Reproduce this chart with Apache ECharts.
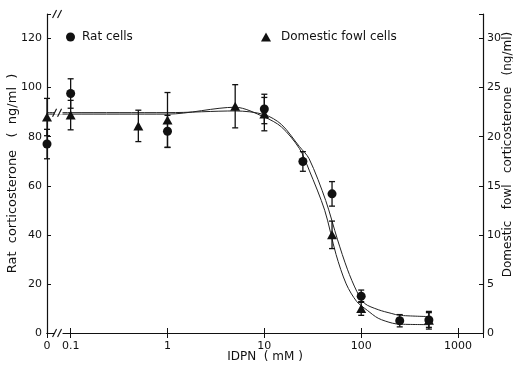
<!DOCTYPE html>
<html>
<head>
<meta charset="utf-8">
<script src="https://cdn.jsdelivr.net/npm/echarts@6/dist/echarts.min.js"></script>
<style>
  html, body { margin: 0; padding: 0; background: #fff; }
  #chart { width: 513px; height: 369px; }
</style>
</head>
<body>
<div id="chart"></div>
<script>
// IDPN dose (mM); 0 is drawn at the left edge of the broken log axis
const ratDose = [0, 0.1, 1, 10, 25, 50, 100, 250, 500];
const ratMean = [77, 97.6, 82.2, 91.3, 69.9, 56.7, 15, 5, 5.3];
const ratSem = [6, 6, 6.5, 6, 4, 5, 2.5, 2.5, 3];

const fowlDose = [0, 0.1, 0.5, 1, 5, 10, 50, 100, 500];
const fowlMean = [22.0, 22.2, 21.1, 21.7, 23.1, 22.3, 10.0, 2.5, 1.3];
const fowlSem = [1.9, 1.5, 1.6, 2.8, 2.2, 1.7, 1.4, 0.7, 0.9];

// fitted curves
const ratFitDose = [0, 0.1, 1, 5, 10, 15, 23, 29, 43, 57, 72, 90, 108, 150, 204, 250, 500];
const ratFit = [89.8, 89.8, 89.8, 90.5, 89, 85, 76, 71, 54, 38, 26, 17, 12.1, 9.5, 8, 7.2, 6.7];
const fowlFitDose = [0, 0.1, 1, 5, 10, 15, 23, 29, 42, 55, 70, 90, 116, 150, 210, 250, 500];
const fowlFit = [22.3, 22.3, 22.3, 23.0, 22.0, 21, 18.8, 16.6, 12.5, 8, 5, 3.2, 2.3, 1.5, 1.0, 0.9, 0.85];

const xTicks = [0.1, 1, 10, 100, 1000];
const X_MIN = 0.057, X_MAX = 1810, X_BREAK = 0.075;
const LEFT_MAX = 130, RIGHT_MAX = 32.5;

const ink = '#111';
const font = 'DejaVu Sans';
const dose = d => (d === 0 ? X_MIN : d);

function xLabel(v) {
  if (Math.abs(v - X_MIN) < 1e-6) return '0';
  const hit = xTicks.find(t => Math.abs(t - v) / t < 1e-6);
  return hit === undefined ? '' : String(hit);
}

function errorBar(params, api) {
  const x = api.value(0);
  const lo = api.coord([x, api.value(1)]);
  const hi = api.coord([x, api.value(2)]);
  const w = 3;
  const st = { stroke: ink, lineWidth: 1.3 };
  return {
    type: 'group',
    children: [
      { type: 'line', shape: { x1: lo[0], y1: lo[1], x2: hi[0], y2: hi[1] }, style: st },
      { type: 'line', shape: { x1: lo[0] - w, y1: lo[1], x2: lo[0] + w, y2: lo[1] }, style: st },
      { type: 'line', shape: { x1: hi[0] - w, y1: hi[1], x2: hi[0] + w, y2: hi[1] }, style: st }
    ]
  };
}

const chart = echarts.init(document.getElementById('chart'));

const logAxis = {
  type: 'log',
  logBase: 10,
  min: X_MIN,
  max: X_MAX,
  axisLine: { show: true, lineStyle: { color: ink, width: 1.2 } },
  axisTick: { show: true, inside: true, length: 5, lineStyle: { color: ink } },
  splitLine: { show: false },
  minorTick: { show: false }
};

chart.setOption({
  animation: false,
  grid: { left: 47, right: 30, top: 14, bottom: 36, containLabel: false, outerBoundsMode: 'none' },
  legend: [
    {
      data: ['Rat cells'], left: 61, top: 26, icon: 'circle',
      itemWidth: 9, itemHeight: 9, itemGap: 6,
      textStyle: { fontFamily: font, fontSize: 12, color: ink, padding: [0, 0, 0, 2] }
    },
    {
      data: ['Domestic fowl cells'], left: 256, top: 26, icon: 'triangle',
      itemWidth: 10, itemHeight: 9,
      textStyle: { fontFamily: font, fontSize: 12, color: ink, padding: [0, 0, 0, 5] }
    }
  ],
  xAxis: [
    Object.assign({}, logAxis, {
      position: 'bottom',
      name: 'IDPN  ( mM )',
      nameLocation: 'middle',
      nameGap: 18,
      nameMoveOverlap: false,
      nameTextStyle: { fontFamily: font, fontSize: 12, color: ink },
      axisLabel: {
        fontFamily: font, fontSize: 11, color: ink, margin: 8,
        showMinLabel: true, showMaxLabel: false, formatter: xLabel
      }
    }),
    Object.assign({}, logAxis, {
      position: 'top',
      axisLabel: { show: false }
    })
  ],
  yAxis: [
    {
      type: 'value', min: 0, max: LEFT_MAX, interval: 20, position: 'left',
      name: 'Rat  corticosterone   (  ng/ml  )',
      nameLocation: 'middle', nameGap: 28, nameMoveOverlap: false,
      nameTextStyle: { fontFamily: font, fontSize: 13, color: ink },
      axisLine: { show: true, lineStyle: { color: ink, width: 1.2 } },
      axisTick: { show: true, inside: true, length: 4, lineStyle: { color: ink } },
      axisLabel: {
        fontFamily: font, fontSize: 11, color: ink, margin: 5,
        formatter: v => (v % 20 === 0 ? String(v) : '')
      },
      splitLine: { show: false }
    },
    {
      type: 'value', min: 0, max: RIGHT_MAX, interval: 5, position: 'right',
      name: 'Domestic   fowl   corticosterone   (ng/ml)',
      nameLocation: 'middle', nameGap: 19, nameMoveOverlap: false,
      nameTextStyle: { fontFamily: font, fontSize: 12, color: ink, padding: [0, 0, 0, 38] },
      axisLine: { show: true, lineStyle: { color: ink, width: 1.2 } },
      axisTick: { show: true, inside: true, length: 4, lineStyle: { color: ink } },
      axisLabel: {
        fontFamily: font, fontSize: 11, color: ink, margin: 4,
        formatter: v => (v % 5 === 0 ? String(v) : '')
      },
      splitLine: { show: false }
    }
  ],
  series: [
    {
      name: 'ratFit', type: 'line', yAxisIndex: 0, smooth: 0.3,
      symbol: 'none', silent: true, z: 1,
      lineStyle: { color: '#222', width: 1 },
      data: ratFitDose.map((d, i) => [dose(d), ratFit[i]])
    },
    {
      name: 'fowlFit', type: 'line', yAxisIndex: 1, smooth: 0.3,
      symbol: 'none', silent: true, z: 1,
      lineStyle: { color: '#222', width: 1 },
      data: fowlFitDose.map((d, i) => [dose(d), fowlFit[i]])
    },
    {
      name: 'ratErr', type: 'custom', yAxisIndex: 0, z: 2, clip: false,
      renderItem: errorBar, encode: { x: 0, y: [1, 2] },
      data: ratDose.map((d, i) => [dose(d), ratMean[i] - ratSem[i], ratMean[i] + ratSem[i]])
    },
    {
      name: 'fowlErr', type: 'custom', yAxisIndex: 1, z: 2, clip: false,
      renderItem: errorBar, encode: { x: 0, y: [1, 2] },
      data: fowlDose.map((d, i) => [dose(d), fowlMean[i] - fowlSem[i], fowlMean[i] + fowlSem[i]])
    },
    {
      name: 'Rat cells', type: 'scatter', yAxisIndex: 0, z: 3, clip: false,
      symbol: 'circle', symbolSize: 9,
      itemStyle: { color: ink, opacity: 1 },
      data: ratDose.map((d, i) => [dose(d), ratMean[i]])
    },
    {
      name: 'Domestic fowl cells', type: 'scatter', yAxisIndex: 1, z: 3, clip: false,
      symbol: 'triangle', symbolSize: [10, 9],
      itemStyle: { color: ink, opacity: 1 },
      data: fowlDose.map((d, i) => [dose(d), fowlMean[i]])
    }
  ]
});

// axis-break marks "//" between 0 and 0.1
function slashes(cx, cy) {
  const st = { stroke: ink, lineWidth: 1.1 };
  return [
    { type: 'rect', shape: { x: cx - 4, y: cy - 2, width: 8, height: 4 }, style: { fill: '#fff' }, z: 100 },
    { type: 'line', shape: { x1: cx - 6, y1: cy + 4, x2: cx - 2, y2: cy - 4 }, style: st, z: 101 },
    { type: 'line', shape: { x1: cx - 1, y1: cy + 4, x2: cx + 3, y2: cy - 4 }, style: st, z: 101 }
  ];
}
const bx = chart.convertToPixel({ xAxisIndex: 0 }, X_BREAK);
const yBottom = chart.convertToPixel({ yAxisIndex: 0 }, 0);
const yTop = chart.convertToPixel({ yAxisIndex: 0 }, LEFT_MAX);
const yCurve = chart.convertToPixel({ yAxisIndex: 0 }, ratFit[0]);
chart.setOption({
  graphic: [].concat(slashes(bx, yBottom), slashes(bx, yTop), slashes(bx, yCurve))
});
</script>
</body>
</html>
